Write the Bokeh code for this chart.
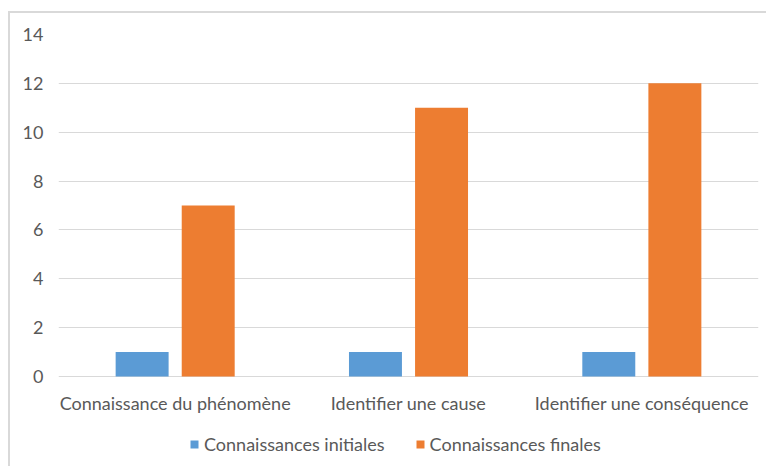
from bokeh.plotting import figure
from bokeh.models import ColumnDataSource, FactorRange, Range1d, FixedTicker, Legend, LegendItem
from bokeh.transform import dodge
from bokeh.embed import file_html
from bokeh.resources import INLINE

categories = ["Connaissance du phénomène", "Identifier une cause", "Identifier une conséquence"]
initiales = [1, 1, 1]
finales = [7, 11, 12]
y_ticks = [0, 2, 4, 6, 8, 10, 12, 14]
series_names = ["Connaissances initiales", "Connaissances finales"]

FONT = "Lato"
TXT = "#595959"

# layout constants (pixels)
PLOT_H = 342      # height of 0..14 value band
BELOW = 92        # space below the zero line for category labels and legend

src = ColumnDataSource(dict(cat=categories, ini=initiales, fin=finales,
                            base=[0] * len(categories)))

p = figure(x_range=FactorRange(*categories, range_padding=0),
           y_range=Range1d(-BELOW * y_ticks[-1] / PLOT_H, y_ticks[-1]),
           width=758, height=455, output_backend="svg", toolbar_location=None,
           x_axis_location=None,
           min_border_left=48, min_border_right=10, min_border_top=21, min_border_bottom=0,
           styles={"border-left": "2px solid #d9d9d9", "border-top": "2px solid #d9d9d9",
                   "margin-left": "8px", "margin-top": "11px"})
p.outline_line_color = None

r1 = p.vbar(x=dodge("cat", -0.1416, range=p.x_range), top="ini", width=0.227, source=src,
            fill_color="#5B9BD5", line_color=None)
r2 = p.vbar(x=dodge("cat", 0.1416, range=p.x_range), top="fin", width=0.227, source=src,
            fill_color="#ED7D31", line_color=None)

# category labels under the zero line
p.text(x="cat", y="base", text="cat", source=src, y_offset=26,
       text_align="center", text_baseline="middle",
       text_font={"value": FONT}, text_font_size="18px", text_color=TXT)

p.yaxis.ticker = FixedTicker(ticks=y_ticks)
p.yaxis.axis_line_color = None
p.yaxis.major_tick_line_color = None
p.yaxis.minor_tick_line_color = None
p.yaxis.major_label_standoff = 9
p.yaxis.major_label_text_font = FONT
p.yaxis.major_label_text_font_size = "18px"
p.yaxis.major_label_text_color = TXT

p.xgrid.visible = False
p.ygrid.grid_line_color = "#d9d9d9"
p.ygrid.ticker = FixedTicker(ticks=y_ticks)

legend = Legend(items=[LegendItem(label=series_names[0], renderers=[r1]),
                       LegendItem(label=series_names[1], renderers=[r2])],
                orientation="horizontal", location=(131, 13),
                label_text_font=FONT, label_text_font_size="18px", label_text_color=TXT,
                glyph_width=10, glyph_height=10, spacing=30, label_standoff=5,
                background_fill_alpha=0, border_line_color=None, padding=0, margin=0)
p.add_layout(legend, "center")

open("out.html", "w").write(file_html(p, INLINE))
